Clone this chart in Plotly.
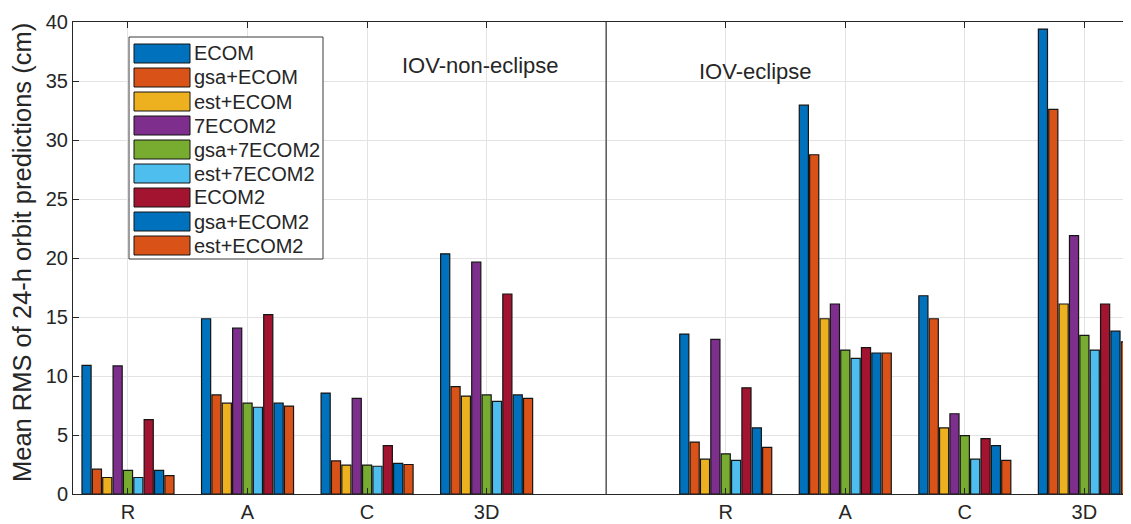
import plotly.graph_objects as go

# ---------------- data ----------------
components = ["R", "A", "C", "3D", "R", "A", "C", "3D"]
group_x = [1, 2, 3, 4, 6, 7, 8, 9]          # position 5 is the empty separator slot
separator_x = 5

series_names = ["ECOM", "gsa+ECOM", "est+ECOM", "7ECOM2", "gsa+7ECOM2",
                "est+7ECOM2", "ECOM2", "gsa+ECOM2", "est+ECOM2"]

ecom       = [10.9, 14.85, 8.55, 20.35, 13.55, 32.95, 16.8, 39.4]
gsa_ecom   = [2.1, 8.4, 2.8, 9.1, 4.4, 28.75, 14.85, 32.6]
est_ecom   = [1.4, 7.7, 2.45, 8.3, 2.95, 14.85, 5.6, 16.1]
ecom7_2    = [10.85, 14.05, 8.1, 19.65, 13.1, 16.1, 6.8, 21.9]
gsa_7ecom2 = [2.0, 7.7, 2.45, 8.4, 3.4, 12.2, 4.95, 13.45]
est_7ecom2 = [1.4, 7.35, 2.35, 7.85, 2.85, 11.5, 2.95, 12.2]
ecom2      = [6.3, 15.2, 4.1, 16.95, 9.0, 12.4, 4.7, 16.1]
gsa_ecom2  = [2.0, 7.7, 2.6, 8.4, 5.6, 11.95, 4.1, 13.8]
est_ecom2  = [1.55, 7.45, 2.5, 8.1, 3.95, 11.95, 2.85, 12.9]

series_values = [ecom, gsa_ecom, est_ecom, ecom7_2, gsa_7ecom2,
                 est_7ecom2, ecom2, gsa_ecom2, est_ecom2]

colors = ["#0072BD", "#D95319", "#EDB120", "#7E2F8E", "#77AC30",
          "#4DBEEE", "#A2142F", "#0072BD", "#D95319"]

panel_labels = ["IOV-non-eclipse", "IOV-eclipse"]
panel_label_x = [3.95, 6.25]
panel_label_y = [36.3, 35.8]

y_ticks = [0, 5, 10, 15, 20, 25, 30, 35, 40]
y_title = "Mean RMS of 24-h orbit predictions (cm)"

# ---------------- layout geometry ----------------
OFF = 8                      # default page (body) margin of the html page
W, H = 1131 - OFF, 524 - OFF
ML, MR, MT, MB = 73 - OFF, 0, 22 - OFF, 30
PW, PH = W - ML - MR, H - MT - MB
FONT = "Liberation Sans, Arial, Helvetica, sans-serif"
TXT = "#262626"


def px_x(page_px):
    return (page_px - OFF - ML) / PW


def px_y(page_py):
    return (H - MB - (page_py - OFF)) / PH


fig = go.Figure()
for name, vals, col in zip(series_names, series_values, colors):
    fig.add_trace(go.Bar(
        x=group_x, y=vals, name=name,
        marker=dict(color=col, line=dict(color="#151515", width=1.2)),
        showlegend=False,
    ))

shapes = []
# separator line between the two panels
shapes.append(dict(type="line", xref="x", yref="y", x0=separator_x, x1=separator_x,
                   y0=0, y1=40, line=dict(color="#555555", width=1.5), layer="above"))

# MATLAB-like legend box
lx0, lx1, ly0, ly1 = 129, 323, 37, 259
shapes.append(dict(type="rect", xref="paper", yref="paper",
                   x0=px_x(lx0), x1=px_x(lx1), y0=px_y(ly1), y1=px_y(ly0),
                   fillcolor="white", line=dict(color="#3a3a3a", width=1), layer="above"))
annotations = []
row0, row_dy, sw_h = 53.5, 24.0, 19
for i, (name, col) in enumerate(zip(series_names, colors)):
    yc = row0 + i * row_dy
    shapes.append(dict(type="rect", xref="paper", yref="paper",
                       x0=px_x(134), x1=px_x(190),
                       y0=px_y(yc + sw_h / 2), y1=px_y(yc - sw_h / 2),
                       fillcolor=col, line=dict(color="#151515", width=1), layer="above"))
    annotations.append(dict(xref="paper", yref="paper", x=px_x(192), y=px_y(yc),
                            text=name, showarrow=False, xanchor="left", yanchor="middle",
                            font=dict(family=FONT, size=20, color=TXT)))

for t, xx, yy in zip(panel_labels, panel_label_x, panel_label_y):
    annotations.append(dict(xref="x", yref="y", x=xx, y=yy, text=t, showarrow=False,
                            xanchor="center", yanchor="middle",
                            font=dict(family=FONT, size=22, color=TXT)))

# y-axis title
annotations.append(dict(xref="paper", yref="paper", x=px_x(22), y=px_y(253),
                        text=y_title, textangle=-90, showarrow=False,
                        xanchor="center", yanchor="middle",
                        font=dict(family=FONT, size=25.5, color=TXT)))

fig.update_layout(
    width=W, height=H,
    margin=dict(l=ML, r=MR, t=MT, b=MB, autoexpand=False),
    paper_bgcolor="white", plot_bgcolor="white",
    barmode="group", bargap=0.22, bargroupgap=0.12,
    font=dict(family=FONT, color=TXT, size=20),
    shapes=shapes, annotations=annotations,
    showlegend=False,
)
fig.update_xaxes(
    range=[0.54, 9.39], tickmode="array", tickvals=group_x, ticktext=components,
    showgrid=True, gridcolor="#e3e3e3", gridwidth=1,
    showline=True, linecolor=TXT, linewidth=1, mirror="ticks",
    ticks="inside", ticklen=6, tickcolor=TXT,
    tickfont=dict(family=FONT, size=20, color=TXT), zeroline=False,
    automargin=False,
)
fig.update_yaxes(
    range=[0, 40], tickmode="array", tickvals=y_ticks,
    showgrid=True, gridcolor="#e3e3e3", gridwidth=1,
    showline=True, linecolor=TXT, linewidth=1,
    ticks="inside", ticklen=6, tickcolor=TXT,
    tickfont=dict(family=FONT, size=20, color=TXT), zeroline=False,
    automargin=False,
)

fig.write_html("out.html")
